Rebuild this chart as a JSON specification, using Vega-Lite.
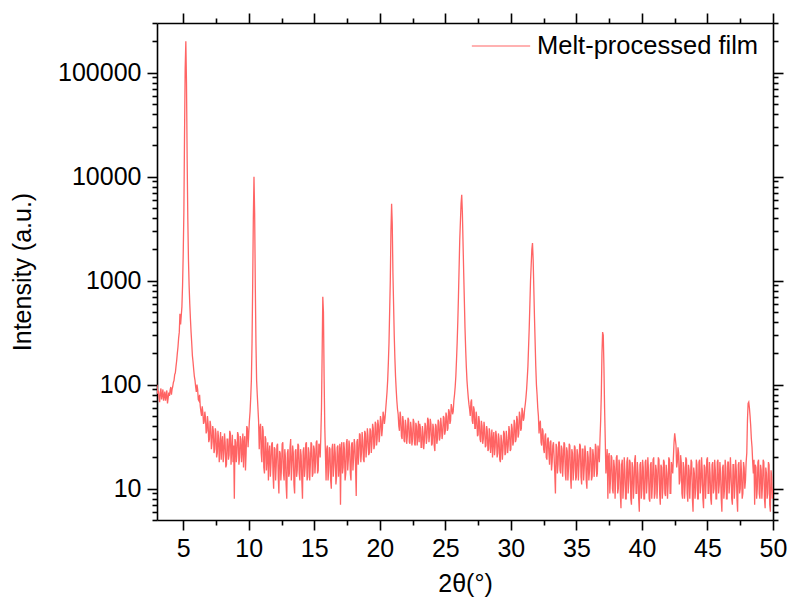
{
"$schema":"https://vega.github.io/schema/vega-lite/v6.json",
"width":616,"height":497,"autosize":"none",
"padding":{"left":157,"top":23,"right":16,"bottom":85},
"config":{"view":{"stroke":null},"axis":{"labelFont":"Liberation Sans","titleFont":"Liberation Sans","labelFontSize":25,"titleFontSize":25,"titleFontWeight":"normal","labelColor":"#000","titleColor":"#000","domainColor":"#000","tickColor":"#000","domainWidth":1.6,"tickWidth":1.6,"grid":false},"legend":{"labelFont":"Liberation Sans"}},
"data":{"values":[
{"t":3.0,"i":100},{"t":3.05,"i":82},{"t":3.1,"i":88},{"t":3.15,"i":75},{"t":3.2,"i":68},{"t":3.25,"i":85},{"t":3.3,"i":92},{"t":3.35,"i":72},{"t":3.4,"i":80},{"t":3.45,"i":90},{"t":3.5,"i":70},{"t":3.55,"i":78},{"t":3.6,"i":86},{"t":3.65,"i":70},{"t":3.7,"i":78},{"t":3.75,"i":88},{"t":3.8,"i":66},{"t":3.85,"i":74},{"t":3.9,"i":84},{"t":3.95,"i":78},{"t":4.0,"i":88},{"t":4.05,"i":95},{"t":4.1,"i":80},{"t":4.15,"i":90},{"t":4.2,"i":96},{"t":4.25,"i":105},{"t":4.3,"i":110},{"t":4.35,"i":125},{"t":4.4,"i":130},{"t":4.45,"i":150},{"t":4.5,"i":170},{"t":4.55,"i":200},{"t":4.6,"i":230},{"t":4.65,"i":280},{"t":4.7,"i":320},{"t":4.75,"i":480},{"t":4.8,"i":380},{"t":4.85,"i":460},{"t":4.9,"i":560},{"t":4.95,"i":900},{"t":5.0,"i":1800},{"t":5.05,"i":4500},{"t":5.1,"i":25000},{"t":5.15,"i":110000},{"t":5.2,"i":200000},{"t":5.25,"i":80000},{"t":5.3,"i":15000},{"t":5.35,"i":4000},{"t":5.4,"i":1600},{"t":5.45,"i":900},{"t":5.5,"i":600},{"t":5.55,"i":430},{"t":5.6,"i":320},{"t":5.65,"i":250},{"t":5.7,"i":190},{"t":5.75,"i":165},{"t":5.8,"i":140},{"t":5.85,"i":120},{"t":5.9,"i":110},{"t":5.95,"i":95},{"t":6.0,"i":85},{"t":6.05,"i":100},{"t":6.1,"i":90},{"t":6.15,"i":72},{"t":6.2,"i":70},{"t":6.25,"i":80},{"t":6.3,"i":62},{"t":6.35,"i":55},{"t":6.4,"i":50},{"t":6.45,"i":62},{"t":6.5,"i":54},{"t":6.55,"i":42},{"t":6.6,"i":44},{"t":6.65,"i":55},{"t":6.7,"i":48},{"t":6.75,"i":34},{"t":6.8,"i":36},{"t":6.85,"i":50},{"t":6.9,"i":42},{"t":6.95,"i":28},{"t":7.0,"i":30},{"t":7.05,"i":45},{"t":7.1,"i":40},{"t":7.15,"i":24},{"t":7.2,"i":28},{"t":7.25,"i":40},{"t":7.3,"i":36},{"t":7.35,"i":22},{"t":7.4,"i":24},{"t":7.45,"i":38},{"t":7.5,"i":34},{"t":7.55,"i":20},{"t":7.6,"i":22},{"t":7.65,"i":36},{"t":7.7,"i":30},{"t":7.75,"i":18},{"t":7.8,"i":26},{"t":7.85,"i":35},{"t":7.9,"i":19},{"t":7.95,"i":28},{"t":8.0,"i":32},{"t":8.05,"i":18},{"t":8.1,"i":22},{"t":8.15,"i":34},{"t":8.2,"i":28},{"t":8.25,"i":16},{"t":8.3,"i":17},{"t":8.35,"i":30},{"t":8.4,"i":30},{"t":8.45,"i":19},{"t":8.5,"i":21},{"t":8.55,"i":36},{"t":8.6,"i":34},{"t":8.65,"i":17},{"t":8.7,"i":24},{"t":8.75,"i":33},{"t":8.8,"i":18},{"t":8.85,"i":26},{"t":8.9,"i":8},{"t":8.95,"i":30},{"t":9.0,"i":28},{"t":9.05,"i":18},{"t":9.1,"i":22},{"t":9.15,"i":35},{"t":9.2,"i":33},{"t":9.25,"i":17},{"t":9.3,"i":20},{"t":9.35,"i":32},{"t":9.4,"i":30},{"t":9.45,"i":18},{"t":9.5,"i":24},{"t":9.55,"i":34},{"t":9.6,"i":16},{"t":9.65,"i":28},{"t":9.7,"i":32},{"t":9.75,"i":15},{"t":9.8,"i":22},{"t":9.85,"i":40},{"t":9.9,"i":38},{"t":9.95,"i":25},{"t":10.0,"i":34},{"t":10.05,"i":45},{"t":10.1,"i":55},{"t":10.15,"i":75},{"t":10.2,"i":110},{"t":10.25,"i":250},{"t":10.3,"i":900},{"t":10.35,"i":4000},{"t":10.4,"i":10000},{"t":10.45,"i":4500},{"t":10.5,"i":900},{"t":10.55,"i":250},{"t":10.6,"i":110},{"t":10.65,"i":80},{"t":10.7,"i":60},{"t":10.75,"i":45},{"t":10.8,"i":24},{"t":10.85,"i":38},{"t":10.9,"i":42},{"t":10.95,"i":22},{"t":11.0,"i":18},{"t":11.05,"i":40},{"t":11.1,"i":36},{"t":11.15,"i":16},{"t":11.2,"i":14},{"t":11.25,"i":32},{"t":11.3,"i":30},{"t":11.35,"i":15},{"t":11.4,"i":20},{"t":11.45,"i":28},{"t":11.5,"i":12},{"t":11.55,"i":22},{"t":11.6,"i":26},{"t":11.65,"i":13},{"t":11.7,"i":18},{"t":11.75,"i":27},{"t":11.8,"i":28},{"t":11.85,"i":14},{"t":11.9,"i":10},{"t":11.95,"i":25},{"t":12.0,"i":24},{"t":12.05,"i":12},{"t":12.1,"i":17},{"t":12.15,"i":26},{"t":12.2,"i":27},{"t":12.25,"i":13},{"t":12.3,"i":9},{"t":12.35,"i":23},{"t":12.4,"i":22},{"t":12.45,"i":12},{"t":12.5,"i":16},{"t":12.55,"i":27},{"t":12.6,"i":28},{"t":12.65,"i":14},{"t":12.7,"i":12},{"t":12.75,"i":24},{"t":12.8,"i":20},{"t":12.85,"i":11},{"t":12.9,"i":8},{"t":12.95,"i":22},{"t":13.0,"i":24},{"t":13.05,"i":13},{"t":13.1,"i":14},{"t":13.15,"i":25},{"t":13.2,"i":30},{"t":13.25,"i":12},{"t":13.3,"i":17},{"t":13.35,"i":26},{"t":13.4,"i":22},{"t":13.45,"i":11},{"t":13.5,"i":9},{"t":13.55,"i":23},{"t":13.6,"i":24},{"t":13.65,"i":13},{"t":13.7,"i":15},{"t":13.75,"i":27},{"t":13.8,"i":26},{"t":13.85,"i":14},{"t":13.9,"i":12},{"t":13.95,"i":24},{"t":14.0,"i":21},{"t":14.05,"i":12},{"t":14.1,"i":8},{"t":14.15,"i":23},{"t":14.2,"i":25},{"t":14.25,"i":13},{"t":14.3,"i":16},{"t":14.35,"i":27},{"t":14.4,"i":28},{"t":14.45,"i":12},{"t":14.5,"i":13},{"t":14.55,"i":25},{"t":14.6,"i":22},{"t":14.65,"i":12},{"t":14.7,"i":17},{"t":14.75,"i":28},{"t":14.8,"i":27},{"t":14.85,"i":13},{"t":14.9,"i":14},{"t":14.95,"i":26},{"t":15.0,"i":24},{"t":15.05,"i":14},{"t":15.1,"i":18},{"t":15.15,"i":28},{"t":15.2,"i":29},{"t":15.25,"i":14},{"t":15.3,"i":15},{"t":15.35,"i":27},{"t":15.4,"i":26},{"t":15.45,"i":20},{"t":15.5,"i":32},{"t":15.55,"i":60},{"t":15.6,"i":200},{"t":15.65,"i":700},{"t":15.7,"i":500},{"t":15.75,"i":120},{"t":15.8,"i":40},{"t":15.85,"i":22},{"t":15.9,"i":12},{"t":15.95,"i":24},{"t":16.0,"i":26},{"t":16.05,"i":12},{"t":16.1,"i":15},{"t":16.15,"i":25},{"t":16.2,"i":24},{"t":16.25,"i":12},{"t":16.3,"i":10},{"t":16.35,"i":24},{"t":16.4,"i":27},{"t":16.45,"i":13},{"t":16.5,"i":17},{"t":16.55,"i":27},{"t":16.6,"i":22},{"t":16.65,"i":11},{"t":16.7,"i":13},{"t":16.75,"i":25},{"t":16.8,"i":26},{"t":16.85,"i":13},{"t":16.9,"i":18},{"t":16.95,"i":27},{"t":17.0,"i":7},{"t":17.05,"i":24},{"t":17.1,"i":28},{"t":17.15,"i":14},{"t":17.2,"i":16},{"t":17.25,"i":28},{"t":17.3,"i":24},{"t":17.35,"i":12},{"t":17.4,"i":14},{"t":17.45,"i":27},{"t":17.5,"i":30},{"t":17.55,"i":15},{"t":17.6,"i":19},{"t":17.65,"i":29},{"t":17.7,"i":25},{"t":17.75,"i":14},{"t":17.8,"i":12},{"t":17.85,"i":27},{"t":17.9,"i":28},{"t":17.95,"i":15},{"t":18.0,"i":20},{"t":18.05,"i":30},{"t":18.1,"i":26},{"t":18.15,"i":16},{"t":18.2,"i":8.5},{"t":18.25,"i":28},{"t":18.3,"i":30},{"t":18.35,"i":17},{"t":18.4,"i":21},{"t":18.45,"i":34},{"t":18.5,"i":33},{"t":18.55,"i":18},{"t":18.6,"i":22},{"t":18.65,"i":35},{"t":18.7,"i":29},{"t":18.75,"i":19},{"t":18.8,"i":18},{"t":18.85,"i":36},{"t":18.9,"i":34},{"t":18.95,"i":20},{"t":19.0,"i":25},{"t":19.05,"i":38},{"t":19.1,"i":32},{"t":19.15,"i":21},{"t":19.2,"i":22},{"t":19.25,"i":38},{"t":19.3,"i":36},{"t":19.35,"i":22},{"t":19.4,"i":27},{"t":19.45,"i":42},{"t":19.5,"i":38},{"t":19.55,"i":24},{"t":19.6,"i":26},{"t":19.65,"i":44},{"t":19.7,"i":42},{"t":19.75,"i":26},{"t":19.8,"i":30},{"t":19.85,"i":46},{"t":19.9,"i":40},{"t":19.95,"i":28},{"t":20.0,"i":34},{"t":20.05,"i":50},{"t":20.1,"i":45},{"t":20.15,"i":32},{"t":20.2,"i":38},{"t":20.25,"i":55},{"t":20.3,"i":50},{"t":20.35,"i":42},{"t":20.4,"i":48},{"t":20.45,"i":58},{"t":20.5,"i":70},{"t":20.55,"i":85},{"t":20.6,"i":110},{"t":20.65,"i":160},{"t":20.7,"i":250},{"t":20.75,"i":500},{"t":20.8,"i":1000},{"t":20.85,"i":3000},{"t":20.9,"i":5500},{"t":20.95,"i":3500},{"t":21.0,"i":1200},{"t":21.05,"i":600},{"t":21.1,"i":300},{"t":21.15,"i":180},{"t":21.2,"i":120},{"t":21.25,"i":90},{"t":21.3,"i":70},{"t":21.35,"i":58},{"t":21.4,"i":52},{"t":21.45,"i":40},{"t":21.5,"i":36},{"t":21.55,"i":55},{"t":21.6,"i":48},{"t":21.65,"i":32},{"t":21.7,"i":30},{"t":21.75,"i":50},{"t":21.8,"i":44},{"t":21.85,"i":29},{"t":21.9,"i":28},{"t":21.95,"i":46},{"t":22.0,"i":40},{"t":22.05,"i":27},{"t":22.1,"i":32},{"t":22.15,"i":48},{"t":22.2,"i":46},{"t":22.25,"i":28},{"t":22.3,"i":27},{"t":22.35,"i":44},{"t":22.4,"i":38},{"t":22.45,"i":26},{"t":22.5,"i":30},{"t":22.55,"i":47},{"t":22.6,"i":44},{"t":22.65,"i":27},{"t":22.7,"i":26},{"t":22.75,"i":43},{"t":22.8,"i":40},{"t":22.85,"i":26},{"t":22.9,"i":33},{"t":22.95,"i":45},{"t":23.0,"i":28},{"t":23.05,"i":42},{"t":23.1,"i":38},{"t":23.15,"i":25},{"t":23.2,"i":25},{"t":23.25,"i":40},{"t":23.3,"i":34},{"t":23.35,"i":24},{"t":23.4,"i":29},{"t":23.45,"i":43},{"t":23.5,"i":40},{"t":23.55,"i":27},{"t":23.6,"i":31},{"t":23.65,"i":48},{"t":23.7,"i":46},{"t":23.75,"i":28},{"t":23.8,"i":33},{"t":23.85,"i":47},{"t":23.9,"i":42},{"t":23.95,"i":26},{"t":24.0,"i":27},{"t":24.05,"i":42},{"t":24.1,"i":38},{"t":24.15,"i":26},{"t":24.2,"i":23},{"t":24.25,"i":42},{"t":24.3,"i":40},{"t":24.35,"i":27},{"t":24.4,"i":30},{"t":24.45,"i":46},{"t":24.5,"i":44},{"t":24.55,"i":29},{"t":24.6,"i":32},{"t":24.65,"i":48},{"t":24.7,"i":40},{"t":24.75,"i":30},{"t":24.8,"i":34},{"t":24.85,"i":50},{"t":24.9,"i":48},{"t":24.95,"i":33},{"t":25.0,"i":36},{"t":25.05,"i":54},{"t":25.1,"i":50},{"t":25.15,"i":36},{"t":25.2,"i":38},{"t":25.25,"i":58},{"t":25.3,"i":55},{"t":25.35,"i":42},{"t":25.4,"i":45},{"t":25.45,"i":65},{"t":25.5,"i":60},{"t":25.55,"i":52},{"t":25.6,"i":55},{"t":25.65,"i":70},{"t":25.7,"i":80},{"t":25.75,"i":95},{"t":25.8,"i":120},{"t":25.85,"i":170},{"t":25.9,"i":250},{"t":25.95,"i":400},{"t":26.0,"i":700},{"t":26.1,"i":2500},{"t":26.2,"i":5500},{"t":26.25,"i":6700},{"t":26.3,"i":4500},{"t":26.4,"i":1200},{"t":26.5,"i":350},{"t":26.55,"i":220},{"t":26.6,"i":150},{"t":26.65,"i":110},{"t":26.7,"i":90},{"t":26.75,"i":75},{"t":26.8,"i":65},{"t":26.85,"i":58},{"t":26.9,"i":50},{"t":26.95,"i":68},{"t":27.0,"i":72},{"t":27.05,"i":45},{"t":27.1,"i":42},{"t":27.15,"i":62},{"t":27.2,"i":58},{"t":27.25,"i":38},{"t":27.3,"i":38},{"t":27.35,"i":55},{"t":27.4,"i":48},{"t":27.45,"i":32},{"t":27.5,"i":33},{"t":27.55,"i":50},{"t":27.6,"i":44},{"t":27.65,"i":30},{"t":27.7,"i":28},{"t":27.75,"i":45},{"t":27.8,"i":40},{"t":27.85,"i":27},{"t":27.9,"i":30},{"t":27.95,"i":44},{"t":28.0,"i":38},{"t":28.05,"i":25},{"t":28.1,"i":26},{"t":28.15,"i":40},{"t":28.2,"i":36},{"t":28.25,"i":23},{"t":28.3,"i":24},{"t":28.35,"i":38},{"t":28.4,"i":34},{"t":28.45,"i":22},{"t":28.5,"i":28},{"t":28.55,"i":37},{"t":28.6,"i":20},{"t":28.65,"i":30},{"t":28.7,"i":35},{"t":28.75,"i":21},{"t":28.8,"i":25},{"t":28.85,"i":36},{"t":28.9,"i":32},{"t":28.95,"i":20},{"t":29.0,"i":22},{"t":29.05,"i":34},{"t":29.1,"i":30},{"t":29.15,"i":19},{"t":29.2,"i":18},{"t":29.25,"i":33},{"t":29.3,"i":28},{"t":29.35,"i":19},{"t":29.4,"i":24},{"t":29.45,"i":36},{"t":29.5,"i":34},{"t":29.55,"i":21},{"t":29.6,"i":22},{"t":29.65,"i":36},{"t":29.7,"i":30},{"t":29.75,"i":22},{"t":29.8,"i":26},{"t":29.85,"i":40},{"t":29.9,"i":36},{"t":29.95,"i":23},{"t":30.0,"i":24},{"t":30.05,"i":42},{"t":30.1,"i":38},{"t":30.15,"i":26},{"t":30.2,"i":28},{"t":30.25,"i":46},{"t":30.3,"i":42},{"t":30.35,"i":28},{"t":30.4,"i":30},{"t":30.45,"i":50},{"t":30.5,"i":46},{"t":30.55,"i":31},{"t":30.6,"i":34},{"t":30.65,"i":55},{"t":30.7,"i":50},{"t":30.75,"i":36},{"t":30.8,"i":38},{"t":30.85,"i":60},{"t":30.9,"i":55},{"t":30.95,"i":45},{"t":31.0,"i":48},{"t":31.05,"i":58},{"t":31.1,"i":65},{"t":31.15,"i":75},{"t":31.2,"i":90},{"t":31.25,"i":115},{"t":31.3,"i":150},{"t":31.4,"i":350},{"t":31.5,"i":1000},{"t":31.6,"i":2000},{"t":31.65,"i":2300},{"t":31.7,"i":1600},{"t":31.8,"i":450},{"t":31.9,"i":150},{"t":31.95,"i":100},{"t":32.0,"i":80},{"t":32.05,"i":60},{"t":32.1,"i":50},{"t":32.15,"i":34},{"t":32.2,"i":42},{"t":32.25,"i":45},{"t":32.3,"i":28},{"t":32.35,"i":26},{"t":32.4,"i":38},{"t":32.45,"i":36},{"t":32.5,"i":24},{"t":32.55,"i":22},{"t":32.6,"i":32},{"t":32.65,"i":34},{"t":32.7,"i":20},{"t":32.75,"i":19},{"t":32.8,"i":30},{"t":32.85,"i":31},{"t":32.9,"i":22},{"t":32.95,"i":17},{"t":33.0,"i":28},{"t":33.05,"i":29},{"t":33.1,"i":15},{"t":33.15,"i":18},{"t":33.2,"i":26},{"t":33.25,"i":28},{"t":33.3,"i":20},{"t":33.35,"i":14},{"t":33.4,"i":9},{"t":33.45,"i":27},{"t":33.5,"i":25},{"t":33.55,"i":14},{"t":33.6,"i":17},{"t":33.65,"i":28},{"t":33.7,"i":28},{"t":33.75,"i":15},{"t":33.8,"i":14},{"t":33.85,"i":26},{"t":33.9,"i":24},{"t":33.95,"i":13},{"t":34.0,"i":18},{"t":34.05,"i":28},{"t":34.1,"i":27},{"t":34.15,"i":14},{"t":34.2,"i":12},{"t":34.25,"i":25},{"t":34.3,"i":23},{"t":34.35,"i":12},{"t":34.4,"i":16},{"t":34.45,"i":27},{"t":34.5,"i":26},{"t":34.55,"i":13},{"t":34.6,"i":10},{"t":34.65,"i":24},{"t":34.7,"i":22},{"t":34.75,"i":12},{"t":34.8,"i":15},{"t":34.85,"i":26},{"t":34.9,"i":25},{"t":34.95,"i":12},{"t":35.0,"i":13},{"t":35.05,"i":24},{"t":35.1,"i":21},{"t":35.15,"i":12},{"t":35.2,"i":17},{"t":35.25,"i":27},{"t":35.3,"i":26},{"t":35.35,"i":13},{"t":35.4,"i":11},{"t":35.45,"i":24},{"t":35.5,"i":24},{"t":35.55,"i":12},{"t":35.6,"i":16},{"t":35.65,"i":26},{"t":35.7,"i":22},{"t":35.75,"i":12},{"t":35.8,"i":10},{"t":35.85,"i":23},{"t":35.9,"i":20},{"t":35.95,"i":12},{"t":36.0,"i":15},{"t":36.05,"i":25},{"t":36.1,"i":24},{"t":36.15,"i":12},{"t":36.2,"i":13},{"t":36.25,"i":24},{"t":36.3,"i":21},{"t":36.35,"i":13},{"t":36.4,"i":16},{"t":36.45,"i":27},{"t":36.5,"i":25},{"t":36.55,"i":13},{"t":36.6,"i":14},{"t":36.65,"i":26},{"t":36.7,"i":22},{"t":36.75,"i":18},{"t":36.8,"i":30},{"t":36.85,"i":45},{"t":36.9,"i":80},{"t":36.95,"i":200},{"t":37.0,"i":320},{"t":37.05,"i":300},{"t":37.1,"i":150},{"t":37.15,"i":60},{"t":37.2,"i":30},{"t":37.25,"i":14},{"t":37.3,"i":18},{"t":37.35,"i":24},{"t":37.4,"i":8},{"t":37.45,"i":20},{"t":37.5,"i":22},{"t":37.55,"i":9},{"t":37.6,"i":12},{"t":37.65,"i":21},{"t":37.7,"i":20},{"t":37.75,"i":10},{"t":37.8,"i":9},{"t":37.85,"i":19},{"t":37.9,"i":16},{"t":37.95,"i":8},{"t":38.0,"i":13},{"t":38.05,"i":20},{"t":38.1,"i":21},{"t":38.15,"i":9},{"t":38.2,"i":10},{"t":38.25,"i":19},{"t":38.3,"i":17},{"t":38.35,"i":9},{"t":38.4,"i":6.5},{"t":38.45,"i":17},{"t":38.5,"i":19},{"t":38.55,"i":8},{"t":38.6,"i":11},{"t":38.65,"i":20},{"t":38.7,"i":15},{"t":38.75,"i":8},{"t":38.8,"i":8},{"t":38.85,"i":18},{"t":38.9,"i":20},{"t":38.95,"i":9},{"t":39.0,"i":12},{"t":39.05,"i":19},{"t":39.1,"i":18},{"t":39.15,"i":8},{"t":39.2,"i":7},{"t":39.25,"i":18},{"t":39.3,"i":16},{"t":39.35,"i":8},{"t":39.4,"i":11},{"t":39.45,"i":19},{"t":39.5,"i":21},{"t":39.55,"i":9},{"t":39.6,"i":9},{"t":39.65,"i":18},{"t":39.7,"i":14},{"t":39.75,"i":8},{"t":39.8,"i":6},{"t":39.85,"i":17},{"t":39.9,"i":18},{"t":39.95,"i":8},{"t":40.0,"i":10},{"t":40.05,"i":19},{"t":40.1,"i":16},{"t":40.15,"i":8},{"t":40.2,"i":8},{"t":40.25,"i":18},{"t":40.3,"i":19},{"t":40.35,"i":9},{"t":40.4,"i":12},{"t":40.45,"i":20},{"t":40.5,"i":15},{"t":40.55,"i":8},{"t":40.6,"i":7.5},{"t":40.65,"i":17},{"t":40.7,"i":18},{"t":40.75,"i":8},{"t":40.8,"i":11},{"t":40.85,"i":19},{"t":40.9,"i":20},{"t":40.95,"i":8},{"t":41.0,"i":9},{"t":41.05,"i":17},{"t":41.1,"i":15},{"t":41.15,"i":8},{"t":41.2,"i":12},{"t":41.25,"i":20},{"t":41.3,"i":19},{"t":41.35,"i":9},{"t":41.4,"i":7},{"t":41.45,"i":17},{"t":41.5,"i":16},{"t":41.55,"i":8},{"t":41.6,"i":10},{"t":41.65,"i":19},{"t":41.7,"i":18},{"t":41.75,"i":9},{"t":41.8,"i":8.5},{"t":41.85,"i":17},{"t":41.9,"i":14},{"t":41.95,"i":8},{"t":42.0,"i":11},{"t":42.05,"i":20},{"t":42.1,"i":19},{"t":42.15,"i":9},{"t":42.2,"i":9},{"t":42.25,"i":18},{"t":42.3,"i":16},{"t":42.35,"i":14},{"t":42.4,"i":20},{"t":42.45,"i":28},{"t":42.5,"i":34},{"t":42.55,"i":30},{"t":42.6,"i":26},{"t":42.65,"i":16},{"t":42.7,"i":18},{"t":42.75,"i":25},{"t":42.8,"i":22},{"t":42.85,"i":11},{"t":42.9,"i":12},{"t":42.95,"i":21},{"t":43.0,"i":18},{"t":43.05,"i":9},{"t":43.1,"i":8},{"t":43.15,"i":18},{"t":43.2,"i":16},{"t":43.25,"i":8},{"t":43.3,"i":11},{"t":43.35,"i":20},{"t":43.4,"i":19},{"t":43.45,"i":9},{"t":43.5,"i":7.5},{"t":43.55,"i":17},{"t":43.6,"i":15},{"t":43.65,"i":8},{"t":43.7,"i":12},{"t":43.75,"i":19},{"t":43.8,"i":18},{"t":43.85,"i":8},{"t":43.9,"i":6},{"t":43.95,"i":16},{"t":44.0,"i":14},{"t":44.05,"i":8},{"t":44.1,"i":10},{"t":44.15,"i":19},{"t":44.2,"i":17},{"t":44.25,"i":8},{"t":44.3,"i":8},{"t":44.35,"i":18},{"t":44.4,"i":19},{"t":44.45,"i":9},{"t":44.5,"i":11},{"t":44.55,"i":20},{"t":44.6,"i":15},{"t":44.65,"i":8},{"t":44.7,"i":6.5},{"t":44.75,"i":17},{"t":44.8,"i":16},{"t":44.85,"i":8},{"t":44.9,"i":12},{"t":44.95,"i":19},{"t":45.0,"i":20},{"t":45.05,"i":9},{"t":45.1,"i":9},{"t":45.15,"i":18},{"t":45.2,"i":14},{"t":45.25,"i":8},{"t":45.3,"i":7},{"t":45.35,"i":17},{"t":45.4,"i":18},{"t":45.45,"i":9},{"t":45.5,"i":10},{"t":45.55,"i":19},{"t":45.6,"i":15},{"t":45.65,"i":8},{"t":45.7,"i":8},{"t":45.75,"i":18},{"t":45.8,"i":19},{"t":45.85,"i":9},{"t":45.9,"i":11},{"t":45.95,"i":18},{"t":46.0,"i":14},{"t":46.05,"i":8},{"t":46.1,"i":6},{"t":46.15,"i":16},{"t":46.2,"i":17},{"t":46.25,"i":8},{"t":46.3,"i":10},{"t":46.35,"i":19},{"t":46.4,"i":16},{"t":46.45,"i":8},{"t":46.5,"i":8},{"t":46.55,"i":18},{"t":46.6,"i":18},{"t":46.65,"i":9},{"t":46.7,"i":12},{"t":46.75,"i":20},{"t":46.8,"i":14},{"t":46.85,"i":8},{"t":46.9,"i":7},{"t":46.95,"i":17},{"t":47.0,"i":17},{"t":47.05,"i":8},{"t":47.1,"i":11},{"t":47.15,"i":19},{"t":47.2,"i":15},{"t":47.25,"i":8},{"t":47.3,"i":6},{"t":47.35,"i":17},{"t":47.4,"i":18},{"t":47.45,"i":9},{"t":47.5,"i":10},{"t":47.55,"i":19},{"t":47.6,"i":14},{"t":47.65,"i":8},{"t":47.7,"i":9},{"t":47.75,"i":18},{"t":47.8,"i":16},{"t":47.85,"i":10},{"t":47.9,"i":12},{"t":47.95,"i":18},{"t":48.0,"i":22},{"t":48.05,"i":45},{"t":48.1,"i":66},{"t":48.15,"i":68},{"t":48.2,"i":60},{"t":48.25,"i":50},{"t":48.3,"i":40},{"t":48.35,"i":30},{"t":48.4,"i":25},{"t":48.45,"i":18},{"t":48.5,"i":14},{"t":48.55,"i":19},{"t":48.6,"i":7},{"t":48.65,"i":17},{"t":48.7,"i":16},{"t":48.75,"i":8},{"t":48.8,"i":10},{"t":48.85,"i":18},{"t":48.9,"i":19},{"t":48.95,"i":9},{"t":49.0,"i":8},{"t":49.05,"i":17},{"t":49.1,"i":15},{"t":49.15,"i":8},{"t":49.2,"i":11},{"t":49.25,"i":19},{"t":49.3,"i":18},{"t":49.35,"i":8},{"t":49.4,"i":6.5},{"t":49.45,"i":16},{"t":49.5,"i":14},{"t":49.55,"i":8},{"t":49.6,"i":9},{"t":49.65,"i":18},{"t":49.7,"i":17},{"t":49.75,"i":7},{"t":49.8,"i":6},{"t":49.85,"i":15},{"t":49.9,"i":13},{"t":49.95,"i":8},{"t":50.0,"i":10}
]},
"layer":[
{"mark":{"type":"line","strokeWidth":1.3,"clip":true},
 "encoding":{
  "x":{"field":"t","type":"quantitative","scale":{"domain":[3,50],"nice":false,"zero":false},
       "axis":{"orient":"bottom","title":"2θ(°)","values":[5,7.5,10,12.5,15,17.5,20,22.5,25,27.5,30,32.5,35,37.5,40,42.5,45,47.5,50],
               "labelExpr":"datum.value % 5 === 0 ? datum.label : ''","format":"d",
               "tickSize":{"condition":{"test":"datum.value % 5 === 0","value":10},"value":5},
               "labelPadding":6,"titlePadding":10,"labelFlush":false,"labelOverlap":false}},
  "y":{"field":"i","type":"quantitative","scale":{"type":"log","domain":[5,300000],"nice":false},
       "axis":{"orient":"left","title":"Intensity (a.u.)","format":"d",
               "values":[5,6,7,8,9,10,20,30,40,50,60,70,80,90,100,200,300,400,500,600,700,800,900,1000,2000,3000,4000,5000,6000,7000,8000,9000,10000,20000,30000,40000,50000,60000,70000,80000,90000,100000,200000,300000],
               "labelExpr":"indexof([10,100,1000,10000,100000], datum.value) >= 0 ? datum.label : ''",
               "tickSize":{"condition":{"test":"indexof([10,100,1000,10000,100000], datum.value) >= 0","value":10},"value":5},
               "labelPadding":6,"titlePadding":22,"labelFlush":false,"labelOverlap":false}},
  "color":{"datum":"Melt-processed film","type":"nominal","scale":{"range":["#ff6464"]},
       "legend":{"title":null,"orient":"none","legendX":314,"legendY":-7,"symbolType":"stroke","symbolSize":3400,"symbolStrokeWidth":1.2,"labelFontSize":25.5,"labelColor":"#000","labelLimit":0,"padding":0,"labelOffset":6}}
 }},
{"mark":{"type":"point","opacity":0},
 "encoding":{
  "x":{"field":"t","type":"quantitative","scale":{"domain":[3,50],"nice":false,"zero":false},
       "axis":{"orient":"top","title":null,"labels":false,"values":[5,7.5,10,12.5,15,17.5,20,22.5,25,27.5,30,32.5,35,37.5,40,42.5,45,47.5,50],
               "tickSize":{"condition":{"test":"datum.value % 5 === 0","value":10},"value":5}}},
  "y":{"field":"i","type":"quantitative","scale":{"type":"log","domain":[5,300000],"nice":false},
       "axis":{"orient":"right","title":null,"labels":false,
               "values":[5,6,7,8,9,10,20,30,40,50,60,70,80,90,100,200,300,400,500,600,700,800,900,1000,2000,3000,4000,5000,6000,7000,8000,9000,10000,20000,30000,40000,50000,60000,70000,80000,90000,100000,200000,300000],
               "tickSize":{"condition":{"test":"indexof([10,100,1000,10000,100000], datum.value) >= 0","value":10},"value":5}}}
 }}
],
"resolve":{"axis":{"x":"independent","y":"independent"}}
}
